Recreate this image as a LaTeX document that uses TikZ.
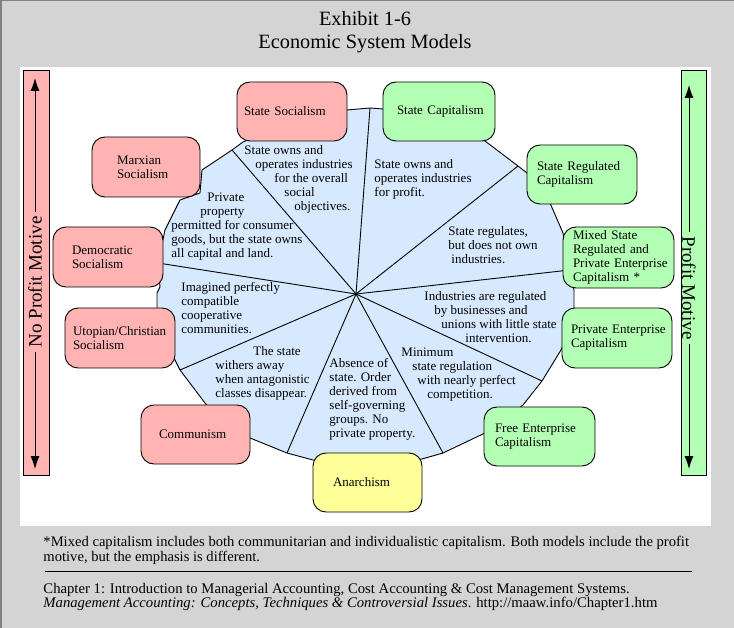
\documentclass[tikz,border=0pt]{standalone}
\usepackage{fontspec}
\setmainfont{Liberation Serif}
\usetikzlibrary{arrows.meta}
\hyphenpenalty=10000
\exhyphenpenalty=10000

\definecolor{framegray}{HTML}{D4D4D4}
\definecolor{socpink}{HTML}{FFB3B3}
\definecolor{capgreen}{HTML}{B3FFB3}
\definecolor{anyellow}{HTML}{FFFF99}
\definecolor{wheelblue}{HTML}{D6E9FE}

\tikzset{
  model/.style={draw, rounded corners=13pt, inner ysep=0pt, align=left,
    font=\fontsize{13}{14}\selectfont},
  sector/.style={anchor=north west, inner sep=0pt, align=left,
    font=\fontsize{13}{14}\selectfont},
  motive/.style={inner sep=4pt, font=\fontsize{19}{19}\selectfont},
  motivetip/.style={-{Latex[length=13pt,width=9pt]}},
}

\begin{document}
\begin{tikzpicture}[x=1pt, y=-1pt, line width=0.9pt]
\useasboundingbox (0,0) rectangle (734,628);

% Frame and panel
\fill[framegray] (0,0) rectangle (734,628);
\draw[gray, line width=1.5pt] (0.75,628) -- (0.75,0.75) -- (734,0.75);
\fill[white] (20,67) rectangle (711,526);

% Title
\node[font=\fontsize{20.3}{23}\selectfont, align=center] (title) at (365,32.5)
    {Exhibit 1-6\\Economic System Models};

% Side bars
\draw[fill=socpink] (23,70) rectangle (49,475);
\draw[fill=capgreen] (681,70) rectangle (706,475);
\node[motive, rotate=90] (nopm) at (35,282) {No Profit Motive};
\coordinate (nopmT) at (35,78);
\coordinate (nopmB) at (35,469);
\draw[motivetip] (nopm) -- (nopmT);
\draw[motivetip] (nopm) -- (nopmB);
\node[motive, rotate=-90] (pm) at (689,288) {Profit Motive};
\coordinate (pmT) at (689,85);
\coordinate (pmB) at (689,469);
\draw[motivetip] (pm) -- (pmT);
\draw[motivetip] (pm) -- (pmB);

% Wheel with spokes
\coordinate (hub) at (356,294);
\coordinate (s1) at (370,108);
\coordinate (s2) at (518,166);
\coordinate (s3) at (570,270);
\coordinate (s4) at (542,381);
\coordinate (s5) at (443,453);
\coordinate (s6) at (287,453);
\coordinate (s7) at (180,370);
\coordinate (s8) at (158,263);
\coordinate (s9) at (232,150);
\draw[fill=wheelblue] (s9) -- (243,142) -- (300,118) -- (347,110) -- (s1)
    -- (383,109) -- (440,120) -- (485,141) -- (s2) -- (527,173) -- (550,203)
    -- (563,233) -- (s3) -- (574,290) -- (574,308) -- (570,330) -- (561,350)
    -- (s4) -- (523,405) -- (500,425) -- (485,433) -- (s5) -- (422,459)
    -- (370,463) -- (313,460) -- (s6) -- (250,438) -- (220,420) -- (205,403)
    -- (s7) -- (175,360) -- (162,335) -- (157,308) -- (157,293) -- (160,287)
    -- (s8) -- (165,230) -- (180,200) -- (200,193) -- (202,170) -- cycle;
\foreach \i in {1,...,9}
    \draw (hub) -- (s\i);

% Sector texts
\node[sector] (txsoc) at (244,145) {State owns and\\
    \hspace*{11pt}operates industries\\
    \hspace*{30pt}for the overall\\
    \hspace*{40pt}social\\
    \hspace*{50pt}objectives.};
\node[sector] (txcap) at (374,159) {State owns and\\operates industries\\for profit.};
\node[sector] (txreg) at (448,226) {State regulates,\\but does not own\\\hspace*{3pt}industries.};
\node[sector] (txmix) at (424,291) {Industries are regulated\\
    \hspace*{10pt}by businesses and\\
    \hspace*{17pt}unions with little state\\
    \hspace*{41pt}intervention.};
\node[sector] (txfree) at (401,347) {Minimum\\
    \hspace*{11pt}state regulation\\
    \hspace*{16pt}with nearly perfect\\
    \hspace*{26pt}competition.};
\node[sector] (txan) at (329,358) {Absence of\\state. Order\\derived from\\self-governing\\groups. No\\private property.};
\node[sector] (txcom) at (215,346) {\hspace*{38pt}The state\\withers away\\when antagonistic\\classes disappear.};
\node[sector] (txuto) at (181,282) {Imagined perfectly\\compatible\\cooperative\\communities.};
\node[sector] (txmarx) at (171,192) {\hspace*{36pt}Private\\
    \hspace*{29pt}property\\
    permitted for consumer\\
    goods, but the state owns\\
    all capital and land.};

% Model boxes
\node[model, fill=socpink, minimum height=59pt, text width=96pt, inner xsep=7pt]
    (socS) at (292,111.5) {State~Socialism};
\node[model, fill=capgreen, minimum height=59pt, text width=84pt, inner xsep=14pt]
    (capS) at (439,111.5) {State~Capitalism};
\node[model, fill=socpink, minimum height=60pt, text width=58pt, inner xsep=25pt]
    (marx) at (146,167) {Marxian\\Socialism};
\node[model, fill=socpink, minimum height=60pt, text width=72pt, inner xsep=19pt]
    (demo) at (108,257) {Democratic\\Socialism};
\node[model, fill=socpink, minimum height=60pt, text width=94pt, inner xsep=8pt]
    (utop) at (120,338) {Utopian/Christian\\Socialism};
\node[model, fill=socpink, minimum height=59pt, text width=73pt, inner xsep=18pt]
    (comm) at (195.5,434.5) {Communism};
\node[model, fill=anyellow, minimum height=59pt, text width=69pt, inner xsep=20pt]
    (anar) at (367.5,482.5) {Anarchism};
\node[model, fill=capgreen, minimum height=59pt, text width=89pt, inner xsep=11pt]
    (free) at (539.5,436.5) {Free~Enterprise\\Capitalism};
\node[model, fill=capgreen, minimum height=60pt, text width=92pt, inner xsep=9pt]
    (priv) at (617,338) {Private~Enterprise\\Capitalism};
\node[model, fill=capgreen, minimum height=61pt, text width=91pt, inner xsep=10pt]
    (mixd) at (618.5,257.5) {Mixed~State\\Regulated~and\\Private~Enterprise\\Capitalism~*};
\node[model, fill=capgreen, minimum height=59pt, text width=90pt, inner xsep=10pt]
    (sreg) at (582,174.5) {State~Regulated\\Capitalism};

% Notes
\node[anchor=north west, inner sep=0pt, align=left, font=\fontsize{14.6}{15}\selectfont]
    (note) at (43,535.5) {*Mixed capitalism includes both communitarian and individualistic capitalism. Both models include the profit\\
    motive, but the emphasis is different.};
\draw[line width=1pt] (45,571) -- (692,571);
\node[anchor=north west, inner sep=0pt, align=left, font=\fontsize{14.7}{14}\selectfont]
    (source) at (43,582.5) {Chapter 1: Introduction to Managerial Accounting, Cost Accounting \& Cost Management Systems.\\
    \textit{Management Accounting: Concepts, Techniques \& Controversial Issues}. http://maaw.info/Chapter1.htm};
\end{tikzpicture}
\end{document}
